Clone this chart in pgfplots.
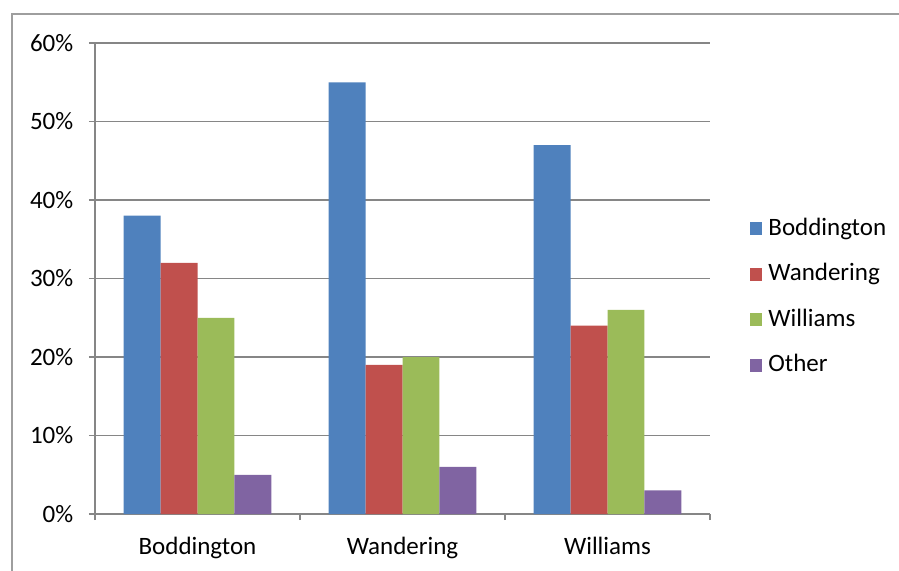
\documentclass[border=0pt]{standalone}
\usepackage{pgfplots}
\pgfplotsset{compat=1.18}
\usepackage{fontspec}
\setmainfont{Carlito}

\definecolor{cBod}{HTML}{4F81BD}
\definecolor{cWan}{HTML}{C0504D}
\definecolor{cWil}{HTML}{9BBB59}
\definecolor{cOth}{HTML}{8064A2}
\definecolor{linegray}{RGB}{134,134,134}

\begin{document}
\fontsize{12.5pt}{15pt}\selectfont
\begin{tikzpicture}
\useasboundingbox (0,0) rectangle (449.5pt,-285.5pt);
\draw[linegray!80, line width=0.8pt] (6pt,-7pt) rectangle (470pt,-300pt);
\begin{axis}[
    at={(47.5pt,-257pt)}, anchor=south west,
    scale only axis,
    width=307.5pt, height=235.5pt,
    ybar=0pt,
    bar width=0.18,
    xmin=-0.5, xmax=2.5,
    ymin=0, ymax=60,
    axis x line*=bottom,
    axis y line*=left,
    axis line style={linegray, line width=0.7pt, -},
    xtick={0,1,2},
    xticklabels={Boddington,Wandering,Williams},
    minor xtick={-0.5,0.5,1.5,2.5},
    major x tick style={draw=none},
    ytick={0,10,...,60},
    yticklabels={0\%,10\%,20\%,30\%,40\%,50\%,60\%},
    tick align=outside,
    major tick length=3pt,
    minor tick length=3pt,
    tick style={linegray, line width=0.7pt},
    ymajorgrids,
    major grid style={linegray, line width=0.7pt},
    tick label style={font=\fontsize{12.5pt}{15pt}\selectfont},
    xticklabel style={yshift=-4pt},
    yticklabel style={xshift=-3.5pt},
    legend style={at={(1.054,0.461)}, anchor=west, draw=none, fill=none,
        row sep=9.2pt, column sep=1.5pt, font=\fontsize{12.5pt}{15pt}\selectfont,
        nodes={inner sep=1.5pt}},
    legend cell align=left,
    legend image code/.code={\fill[#1] (0pt,-3.2pt) rectangle (6.4pt,3.2pt);},
]
\addplot[fill=cBod, draw=none] coordinates {(0,38) (1,55) (2,47)};
\addplot[fill=cWan, draw=none] coordinates {(0,32) (1,19) (2,24)};
\addplot[fill=cWil, draw=none] coordinates {(0,25) (1,20) (2,26)};
\addplot[fill=cOth, draw=none] coordinates {(0,5) (1,6) (2,3)};
\legend{Boddington,Wandering,Williams,Other}
\end{axis}
\end{tikzpicture}
\end{document}
